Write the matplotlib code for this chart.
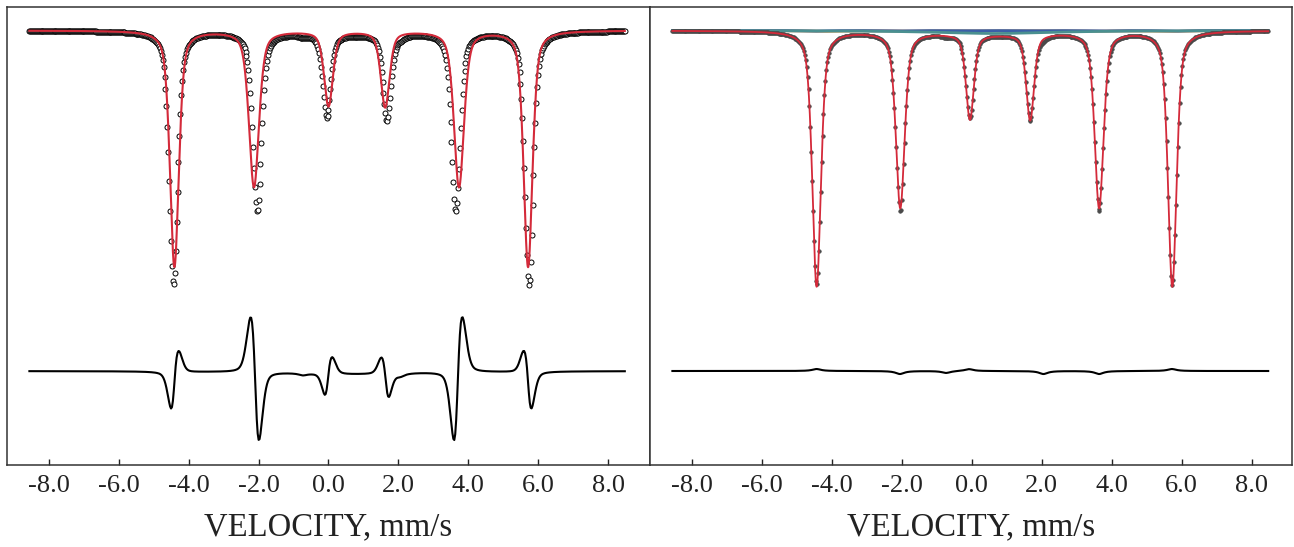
#!/usr/bin/env python3

import numpy as np
import matplotlib
matplotlib.use("Agg")
import matplotlib.pyplot as plt

plt.rcParams['font.family'] = ['Liberation Serif', 'DejaVu Serif']
plt.rcParams['axes.unicode_minus'] = False

# velocity grid of the spectrum, mm/s
vel_start = -8.55
vel_stop = 8.47
n_channels = 640

# line shape: share of Lorentzian in a pseudo-Voigt line
lorentz_share = 0.5

# measured sextet (relative transmission, baseline 1.0)
line_pos = [-4.43, -2.04, -0.05, 1.67, 3.64, 5.73]
line_depth = [0.254, 0.175, 0.085, 0.086, 0.175, 0.254]
line_fwhm = [0.29, 0.30, 0.27, 0.27, 0.30, 0.29]

# left panel: one sextet fit, misses the line positions
fit1_pos = [-4.405, -2.13, 0.00, 1.62, 3.73, 5.705]
fit1_depth = [0.236, 0.156, 0.075, 0.076, 0.156, 0.236]
fit1_fwhm = [0.30, 0.34, 0.30, 0.30, 0.34, 0.30]

# right panel: weak extra subspectra
teal_pos = [0.65]
teal_depth = [0.003]
teal_fwhm = [4.0]
orange_pos = [-4.30, -1.95, 0.05, 1.60, 3.55, 5.60]
orange_depth = [0.0008, 0.0006, 0.0003, 0.0003, 0.0006, 0.0008]
orange_fwhm = [1.2, 1.2, 1.2, 1.2, 1.2, 1.2]
blue_pos = [-4.50, -2.10, -0.10, 1.75, 3.70, 5.85]
blue_depth = [0.0006, 0.0004, 0.0002, 0.0002, 0.0004, 0.0006]
blue_fwhm = [0.8, 0.8, 0.8, 0.8, 0.8, 0.8]

# what is left after the right panel fit
misfit_pos = [-4.43, -2.05, -0.73, -0.08, 2.05, 3.64, 5.72]
misfit_amp = [0.002, -0.003, -0.002, 0.002, -0.003, -0.003, 0.002]
misfit_fwhm = 0.3

resid_base = 0.6595   # where the difference curve sits
red = '#d42a3a'


def lines(v, pos, depth, fwhm, eta=lorentz_share):
    out = np.zeros_like(v)
    for c, d, w in zip(pos, depth, fwhm):
        x = (v - c) / (w / 2.0)
        out += d * (eta / (1.0 + x ** 2) + (1 - eta) * np.exp(-np.log(2) * x ** 2))
    return out


def lorentz(v, pos, depth, fwhm):
    return lines(v, pos, depth, fwhm, eta=1.0)


v = np.linspace(vel_start, vel_stop, n_channels)
vf = np.linspace(vel_start, vel_stop, 4000)

main = lines(v, line_pos, line_depth, line_fwhm)
teal = lorentz(v, teal_pos, teal_depth, teal_fwhm)
orange = lorentz(v, orange_pos, orange_depth, orange_fwhm)
blue = lorentz(v, blue_pos, blue_depth, blue_fwhm)
misfit = lorentz(v, misfit_pos, misfit_amp, [misfit_fwhm] * len(misfit_pos))

fit2 = 1.0 - main - teal - orange - blue
data = fit2 + misfit
fit1 = 1.0 - lines(v, fit1_pos, fit1_depth, fit1_fwhm)

# smooth curves for drawing
fit1_f = 1.0 - lines(vf, fit1_pos, fit1_depth, fit1_fwhm)
teal_f = 1.0 - lorentz(vf, teal_pos, teal_depth, teal_fwhm)
orange_f = 1.0 - lorentz(vf, orange_pos, orange_depth, orange_fwhm)
blue_f = 1.0 - lorentz(vf, blue_pos, blue_depth, blue_fwhm)
fit2_f = (teal_f + orange_f + blue_f - 2.0
          - lines(vf, line_pos, line_depth, line_fwhm))

fig = plt.figure(figsize=(12.94, 5.47), dpi=100)
ax1 = fig.add_axes([7 / 1294, 82 / 547, 643 / 1294, 458 / 547])
ax2 = fig.add_axes([650 / 1294, 82 / 547, 642 / 1294, 458 / 547])

# left: one sextet
ax1.plot(v, data, 'o', ms=3.6, mfc='white', mec='black', mew=0.7, zorder=2)
ax1.plot(vf, fit1_f, color=red, lw=1.5, zorder=3)
ax1.plot(v, resid_base + (data - fit1), color='black', lw=1.5, zorder=3)

# right: full fit with subspectra
ax2.plot(vf, orange_f, color='#f0a030', lw=2.0, zorder=1)
ax2.plot(vf, blue_f, color='#3a5fa8', lw=2.0, zorder=1)
ax2.plot(vf, teal_f, color='#4a9090', lw=2.0, zorder=1)
ax2.plot(v, data, 'o', ms=2.6, mfc='#4a4a4a', mec='#4a4a4a', mew=0.4, zorder=2)
ax2.plot(vf, fit2_f, color=red, lw=1.3, zorder=3)
ax2.plot(v, resid_base + (data - fit2), color='black', lw=1.5, zorder=3)

for ax, xlim in [(ax1, (-9.19, 9.19)), (ax2, (-9.19, 9.15))]:
    ax.set_xlim(*xlim)
    ax.set_ylim(0.5655, 1.0235)
    ax.set_xticks(np.arange(-8, 9, 2))
    ax.set_xticklabels(["%.1f" % t for t in np.arange(-8, 9, 2)])
    ax.set_yticks([])
    ax.tick_params(axis='x', direction='in', length=4.5, width=1.0,
                   labelsize=19, pad=7, colors='#222222')
    for s in ax.spines.values():
        s.set_color('#333333')
        s.set_linewidth(1.1)
    ax.set_xlabel("VELOCITY, mm/s", fontsize=23.5, color='#222222', labelpad=11)

plt.savefig("out.png", dpi=100)
plt.close()
